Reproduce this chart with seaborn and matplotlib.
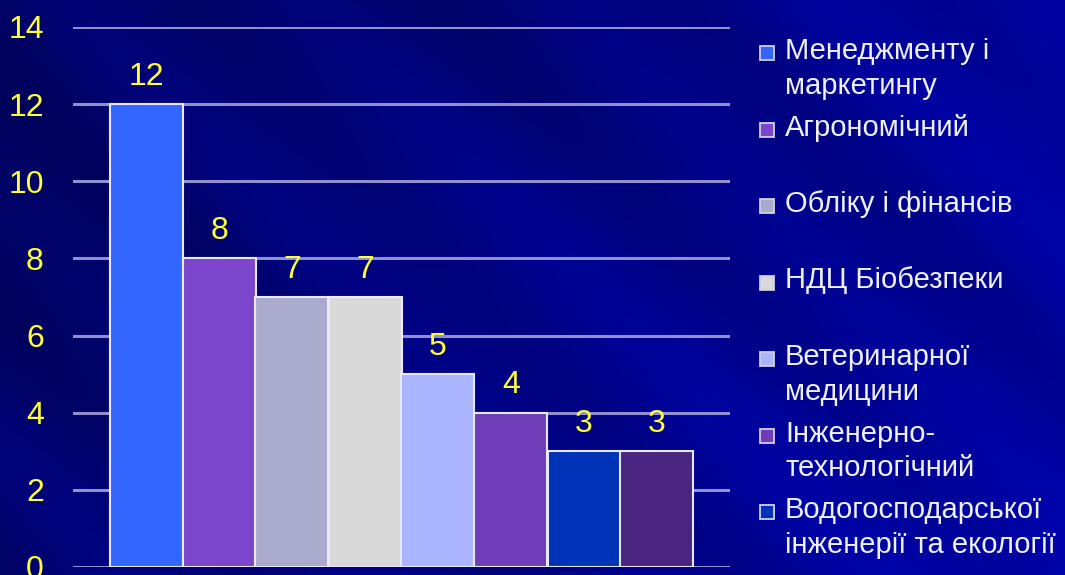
import numpy as np
import pandas as pd
import matplotlib
matplotlib.use("Agg")
import matplotlib.pyplot as plt
from matplotlib.patches import Rectangle
import seaborn as sns

# ---- data ----
categories = ["Менеджменту і\nмаркетингу", "Агрономічний", "Обліку і фінансів",
              "НДЦ Біобезпеки", "Ветеринарної\nмедицини", "Інженерно-\nтехнологічний",
              "Водогосподарської\nінженерії та екології", "Інший"]
values = [12, 8, 7, 7, 5, 4, 3, 3]
colors = ["#3366ff", "#7b46cc", "#aaaacc", "#d9d9d9", "#aab4ff", "#6f3db8", "#0033b8", "#4a2580"]
y_ticks = [0, 2, 4, 6, 8, 10, 12, 14]
legend_count = 7  # entries visible in the frame

sns.set_theme(style="white")
plt.rcParams["font.family"] = ["Liberation Sans", "DejaVu Sans"]

W, H = 1065, 575
fig = plt.figure(figsize=(W / 100, H / 100), dpi=100)

# background gradient with diagonal streaks
bg = fig.add_axes([0, 0, 1, 1], zorder=-10)
yy, xx = np.mgrid[0:1:300j, 0:1:560j]
base = 0.38 + 0.22 * xx + 0.04 * yy
streak = 0.035 * np.sin((xx * 1.9 - yy) * 14) + 0.025 * np.sin((xx * 1.2 - yy) * 7 + 1.0)
b = np.clip(base + streak, 0, 1)
img = np.dstack([np.zeros_like(b), np.zeros_like(b) + 0.02 * b, b])
bg.imshow(img, aspect="auto", extent=[0, 1, 0, 1], origin="upper")
bg.axis("off")

ax = fig.add_axes([73 / W, 8 / H, 657 / W, 540 / H])
ax.set_facecolor("none")
df = pd.DataFrame({"cat": categories, "val": values})
sns.barplot(data=df, x="cat", y="val", hue="cat", palette=colors, dodge=False,
            width=1.0, legend=False, ax=ax, edgecolor="#e8e8ff", linewidth=1.5,
            saturation=1, zorder=3)

ax.set_ylim(0, 14)
ax.set_xlim(-1.0, 8.0)
ax.set_yticks(y_ticks)
ax.set_yticklabels([str(t) for t in y_ticks], color="#ffff33", fontsize=23)
ax.tick_params(axis="y", length=0, pad=21)
ax.set_xticks([])
ax.set_xlabel("")
ax.set_ylabel("")
for s in ax.spines.values():
    s.set_visible(False)
for t in y_ticks:
    ax.axhline(t, color="#9090d0", lw=2.2, zorder=1)

for c in ax.containers:
    ax.bar_label(c, fmt="%g", padding=9, color="#ffff33", fontsize=23)

# legend (PowerPoint style, marker at first line)
x_box = 760 / W
x_txt = 785 / W
y0 = 53
step = 76.5
for i in range(legend_count):
    yc = y0 + i * step
    fig.patches.append(Rectangle((x_box, 1 - (yc + 7) / H), 14 / W, 14 / H,
                                 transform=fig.transFigure, facecolor=colors[i],
                                 edgecolor="#d0d0e0", lw=1.3))
    fig.text(x_txt, 1 - (yc - 16) / H, categories[i], color="#f0f0fa", fontsize=21,
             va="top", ha="left", linespacing=1.3)

fig.savefig("out.png", dpi=100)
